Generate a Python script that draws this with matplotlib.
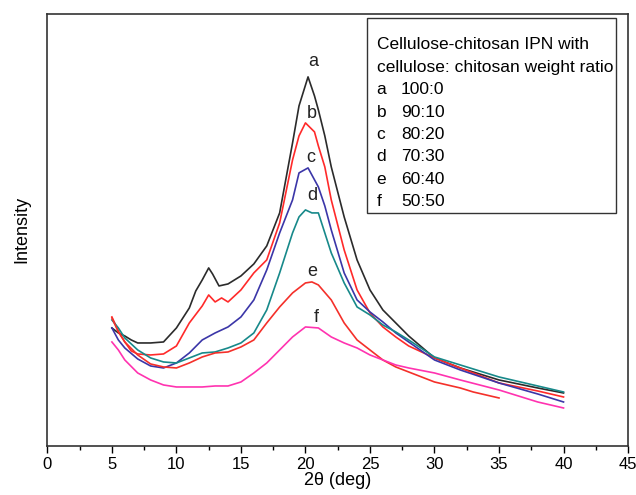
import matplotlib.pyplot as plt
from matplotlib.ticker import MultipleLocator

# 2theta (deg) and intensity (arbitrary units)
x_a = [5, 5.5, 6, 6.5, 7, 8, 9, 10, 11, 11.5, 12, 12.5, 12.8, 13.3, 14, 15, 16, 17, 18, 19, 19.5, 20.2, 20.7, 21, 21.5, 22, 23, 24, 25, 26, 27, 28, 30, 32, 35, 38, 40]
y_a = [118, 113, 110, 106, 103, 103, 104, 118, 138, 155, 166, 178, 172, 160, 162, 170, 182, 200, 233, 303, 340, 369, 350, 336, 310, 279, 229, 186, 156, 136, 123, 110, 88, 78, 66, 58, 53]

x_b = [5, 5.5, 6, 6.5, 7, 8, 9, 10, 11, 12, 12.5, 13, 13.5, 14, 15, 16, 17, 18, 19, 19.5, 20, 20.7, 21, 21.5, 22, 23, 24, 25, 26, 27, 28, 30, 32, 35, 38, 40]
y_b = [129, 115, 104, 95, 92, 91, 92, 100, 123, 140, 151, 144, 148, 144, 156, 173, 186, 223, 286, 310, 323, 314, 300, 279, 246, 196, 156, 133, 119, 109, 100, 88, 78, 63, 55, 49]

x_c = [5, 5.5, 6, 7, 8, 9, 10, 11, 12, 13, 14, 15, 16, 17, 18, 19, 19.5, 20.2, 21, 21.5, 22, 23, 24, 25, 26, 27, 28, 30, 32, 35, 38, 40]
y_c = [118, 106, 98, 87, 80, 78, 83, 93, 106, 113, 119, 129, 146, 176, 213, 246, 273, 278, 259, 240, 216, 173, 146, 134, 124, 113, 104, 86, 76, 63, 52, 44]

x_d = [5, 5.5, 6, 7, 8, 9, 10, 11, 12, 13, 14, 15, 16, 17, 18, 19, 19.5, 20, 20.5, 21, 21.5, 22, 23, 24, 25, 26, 27, 28, 30, 32, 35, 38, 40]
y_d = [126, 118, 108, 96, 88, 84, 83, 88, 93, 94, 98, 103, 113, 136, 173, 213, 229, 236, 233, 233, 213, 193, 163, 139, 131, 121, 114, 106, 89, 81, 69, 60, 54]

x_e = [5, 5.5, 6, 7, 8, 9, 10, 11, 12, 13, 14, 15, 16, 17, 18, 19, 20, 20.5, 21, 22, 23, 24, 25, 26, 27, 28, 30, 32, 33, 35]
y_e = [128, 114, 104, 91, 82, 79, 78, 83, 89, 93, 94, 99, 106, 123, 139, 153, 163, 164, 161, 146, 123, 106, 96, 86, 79, 74, 64, 58, 54, 48]

x_f = [5, 5.5, 6, 7, 8, 9, 10, 11, 12, 13, 14, 15, 16, 17, 18, 19, 20, 21, 22, 23, 24, 25, 26, 27, 28, 30, 32, 35, 38, 40]
y_f = [104, 96, 86, 73, 66, 61, 59, 59, 59, 60, 60, 64, 73, 83, 96, 109, 119, 118, 109, 103, 98, 91, 86, 81, 78, 73, 66, 56, 44, 38]

series = [
    ("a", x_a, y_a, "#2b2b2b", "100:0"),
    ("b", x_b, y_b, "#ff2a2a", "90:10"),
    ("c", x_c, y_c, "#3b36a8", "80:20"),
    ("d", x_d, y_d, "#17898a", "70:30"),
    ("e", x_e, y_e, "#f4302a", "60:40"),
    ("f", x_f, y_f, "#ff33b0", "50:50"),
]

# curve label positions (2theta, intensity)
label_pos = {"a": (20.6, 376), "b": (20.5, 324), "c": (20.4, 280), "d": (20.5, 242), "e": (20.5, 166), "f": (20.8, 120)}

plt.rcParams["font.family"] = ["Liberation Sans", "DejaVu Sans"]

fig = plt.figure(figsize=(6.36, 4.95), dpi=100)
ax = fig.add_axes([0.0745, 0.099, 0.913, 0.873])

for name, xs, ys, color, ratio in series:
    ax.plot(xs, ys, color=color, linewidth=1.2)
    lx, ly = label_pos[name]
    ax.text(lx, ly, name, ha="center", va="bottom", fontsize=13, color="#222222")

ax.set_xlim(0, 45)
ax.set_ylim(0, 432)
ax.xaxis.set_major_locator(MultipleLocator(5))
ax.xaxis.set_minor_locator(MultipleLocator(2.5))
ax.tick_params(axis="x", which="major", direction="out", length=5, width=1, labelsize=12, pad=3)
ax.tick_params(axis="x", which="minor", direction="out", length=3, width=1)
ax.set_yticks([])
for sp in ax.spines.values():
    sp.set_linewidth(1.2)
    sp.set_color("#333333")

ax.set_xlabel("2θ (deg)", fontsize=13, labelpad=0)
ax.set_ylabel("Intensity", fontsize=13, labelpad=12)

# legend box drawn as a text block
box = plt.Rectangle((0.550, 0.539), 0.429, 0.452, transform=ax.transAxes,
                    fill=False, edgecolor="#333333", linewidth=1.0)
ax.add_patch(box)
ax.text(0.567, 0.928, "Cellulose-chitosan IPN with", transform=ax.transAxes, fontsize=12.5, va="center")
ax.text(0.567, 0.875, "cellulose: chitosan weight ratio", transform=ax.transAxes, fontsize=12.5, va="center")
for i, (name, xs, ys, color, ratio) in enumerate(series):
    yy = 0.824 - i * 0.0517
    ax.text(0.567, yy, name, transform=ax.transAxes, fontsize=12.5, va="center")
    ax.text(0.609, yy, ratio, transform=ax.transAxes, fontsize=12.5, va="center")

fig.savefig("out.png", dpi=100)
